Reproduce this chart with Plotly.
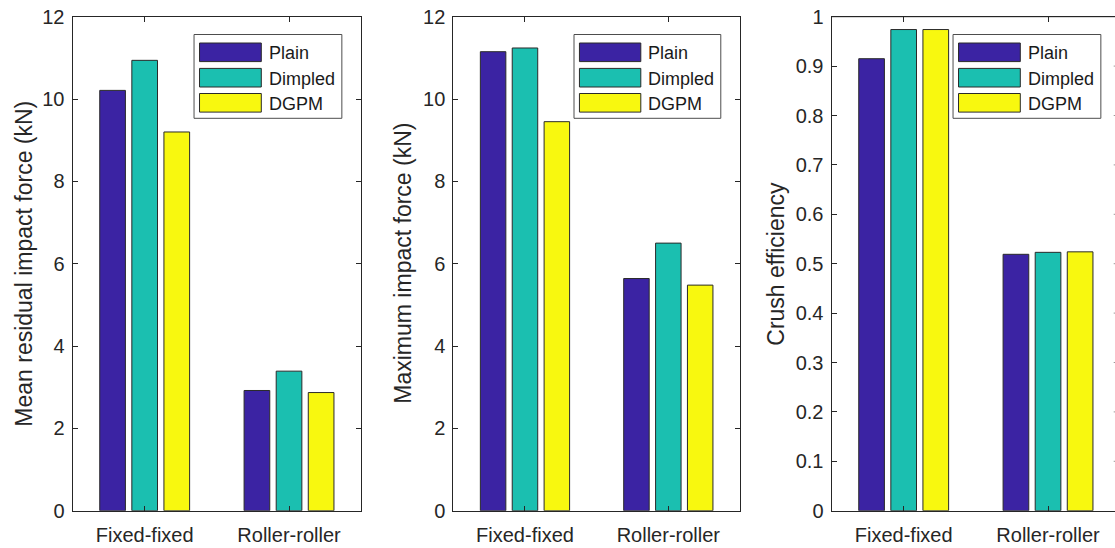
import plotly.graph_objects as go

# ---- data ----
categories = ["Fixed-fixed", "Roller-roller"]
series_names = ["Plain", "Dimpled", "DGPM"]
series_colors = ["#3B23A3", "#1BBFB0", "#F8F80F"]

# values per series: [Fixed-fixed, Roller-roller]
residual_plain = [10.21, 2.92]
residual_dimpled = [10.94, 3.39]
residual_dgpm = [9.20, 2.87]

max_plain = [11.15, 5.64]
max_dimpled = [11.24, 6.50]
max_dgpm = [9.45, 5.48]

eff_plain = [0.915, 0.519]
eff_dimpled = [0.974, 0.523]
eff_dgpm = [0.974, 0.524]

force_ticks = [0, 2, 4, 6, 8, 10, 12]
eff_ticks = [0, 0.1, 0.2, 0.3, 0.4, 0.5, 0.6, 0.7, 0.8, 0.9, 1]

panel_titles = ["Mean residual impact force (kN)",
                "Maximum impact force (kN)",
                "Crush efficiency"]

# ---- layout geometry (pixels) ----
W, H = 1115, 548
TOP, BOTTOM = 16.7, 510.7
panels_px = [(72.5, 361.2), (453.3, 740.0), (831.5, 1120.2)]
title_x_px = [24, 403, 776]
FONT = "Liberation Sans, Arial, Helvetica, sans-serif"
TXT = "#262626"
AX = "#262626"

fig = go.Figure()

panel_data = [
    [residual_plain, residual_dimpled, residual_dgpm],
    [max_plain, max_dimpled, max_dgpm],
    [eff_plain, eff_dimpled, eff_dgpm],
]

for p, vals in enumerate(panel_data):
    sfx = "" if p == 0 else str(p + 1)
    for name, color, v in zip(series_names, series_colors, vals):
        fig.add_trace(go.Bar(
            x=categories, y=v, name=name,
            marker=dict(color=color, line=dict(color="#2a2a2a", width=1)),
            xaxis="x" + sfx, yaxis="y" + sfx,
            offsetgroup=name, showlegend=False,
        ))

layout_axes = {}
for p, (L, R) in enumerate(panels_px):
    sfx = "" if p == 0 else str(p + 1)
    Rv = min(R, W)
    unit = (R - L) / 2.0
    xr = [-0.5, -0.5 + (Rv - L) / unit]
    layout_axes["xaxis" + sfx] = dict(
        domain=[L / W, Rv / W], range=xr, anchor="y" + sfx,
        type="category", showline=True, linecolor=AX, linewidth=1,
        mirror="ticks", ticks="inside", ticklen=5, tickcolor=AX,
        tickfont=dict(family=FONT, size=20, color=TXT),
        ticklabelstandoff=6,
        showgrid=False, zeroline=False, fixedrange=True, automargin=False,
    )
    if p < 2:
        yr, tv = [0, 12], force_ticks
    else:
        yr, tv = [0, 1], eff_ticks
    layout_axes["yaxis" + sfx] = dict(
        domain=[1 - BOTTOM / H, 1 - TOP / H], range=yr, anchor="x" + sfx,
        tickvals=tv, ticktext=[f"{t:g}" for t in tv],
        showline=True, linecolor=AX, linewidth=1,
        mirror="ticks" if p < 2 else False,
        ticks="inside", ticklen=5, tickcolor=AX,
        tickfont=dict(family=FONT, size=20, color=TXT),
        ticklabelstandoff=3,
        showgrid=False, zeroline=False, fixedrange=True, automargin=False,
    )

shapes = []
annotations = []

# top edge of the third panel (its right edge lies beyond the page)
L3, R3 = panels_px[2]
shapes.append(dict(type="line", xref="paper", yref="paper",
                   x0=L3 / W, x1=1.0, y0=1 - TOP / H, y1=1 - TOP / H,
                   line=dict(color=AX, width=1)))
# right-side ticks of the third panel
for t in eff_ticks[1:-1]:
    shapes.append(dict(type="line", xref="paper", yref="y3",
                       x0=(R3 - 6.5) / W, x1=1.0, y0=t, y1=t,
                       line=dict(color="#9a9a9a", width=1)))

for p, (L, R) in enumerate(panels_px):
    wpx = R - L
    # legend box
    bx0 = L + 0.421 * wpx
    bx1 = L + 0.933 * wpx
    by0, by1 = 34.5, 118.3
    shapes.append(dict(type="rect", xref="paper", yref="paper",
                       x0=bx0 / W, x1=min(bx1, W) / W,
                       y0=1 - by1 / H, y1=1 - by0 / H,
                       fillcolor="white", line=dict(color="#4d4d4d", width=1),
                       layer="above"))
    row_c = [52.3, 77.7, 102.8]
    sx0 = L + 0.440 * wpx
    sx1 = L + 0.654 * wpx
    for i, (name, color) in enumerate(zip(series_names, series_colors)):
        yc = row_c[i]
        shapes.append(dict(type="rect", xref="paper", yref="paper",
                           x0=sx0 / W, x1=sx1 / W,
                           y0=1 - (yc + 9.3) / H, y1=1 - (yc - 9.3) / H,
                           fillcolor=color, line=dict(color="#2a2a2a", width=1),
                           layer="above"))
        annotations.append(dict(
            text=name, xref="paper", yref="paper",
            x=(L + 0.672 * wpx) / W, y=1 - (yc + 1) / H,
            xanchor="left", yanchor="middle", showarrow=False,
            font=dict(family=FONT, size=18, color="#1a1a1a"),
        ))
    # y-axis title
    annotations.append(dict(
        text=panel_titles[p], xref="paper", yref="paper",
        x=title_x_px[p] / W, y=1 - (TOP + BOTTOM) / 2 / H,
        xanchor="center", yanchor="middle", textangle=-90, showarrow=False,
        font=dict(family=FONT, size=23, color=TXT),
    ))

fig.update_layout(
    width=W, height=H,
    margin=dict(l=0, r=0, t=0, b=0, autoexpand=False),
    paper_bgcolor="white", plot_bgcolor="white",
    barmode="group", bargap=0.333, bargroupgap=0.2,
    showlegend=False,
    shapes=shapes, annotations=annotations,
    **layout_axes,
)

fig.write_html("out.html")
